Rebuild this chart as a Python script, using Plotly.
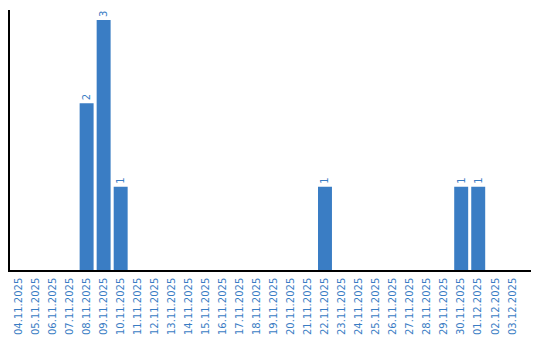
import plotly.graph_objects as go

dates = ["04.11.2025","05.11.2025","06.11.2025","07.11.2025","08.11.2025","09.11.2025",
         "10.11.2025","11.11.2025","12.11.2025","13.11.2025","14.11.2025","15.11.2025",
         "16.11.2025","17.11.2025","18.11.2025","19.11.2025","20.11.2025","21.11.2025",
         "22.11.2025","23.11.2025","24.11.2025","25.11.2025","26.11.2025","27.11.2025",
         "28.11.2025","29.11.2025","30.11.2025","01.12.2025","02.12.2025","03.12.2025"]
counts = [0,0,0,0,2,3,1,0,0,0,0,0,0,0,0,0,0,0,1,0,0,0,0,0,0,0,1,1,0,0]

labels = [str(c) if c > 0 else "" for c in counts]
color = "#3a7dc4"

fig = go.Figure(go.Bar(
    x=dates, y=counts, marker_color=color, marker_line_width=0,
    text=labels, textposition="outside", textangle=-90,
    textfont=dict(family="DejaVu Sans", size=10, color=color),
    cliponaxis=False,
))
fig.update_layout(
    width=540, height=340, margin=dict(l=10, r=9, t=10, b=70, autoexpand=False),
    paper_bgcolor="white", plot_bgcolor="white", bargap=0.18, showlegend=False,
    xaxis=dict(type="category", tickangle=-90, showgrid=False, ticks="",
               range=[-0.5, 30.1], ticklabelstandoff=2, automargin=False,
               showline=True, linecolor="black", linewidth=1.5,
               tickfont=dict(family="DejaVu Sans", size=10, color=color)),
    yaxis=dict(range=[0, 3.12], showgrid=False, showticklabels=False, ticks="",
               automargin=False,
               showline=True, linecolor="black", linewidth=1.5, zeroline=False),
)
fig.write_html("out.html")
